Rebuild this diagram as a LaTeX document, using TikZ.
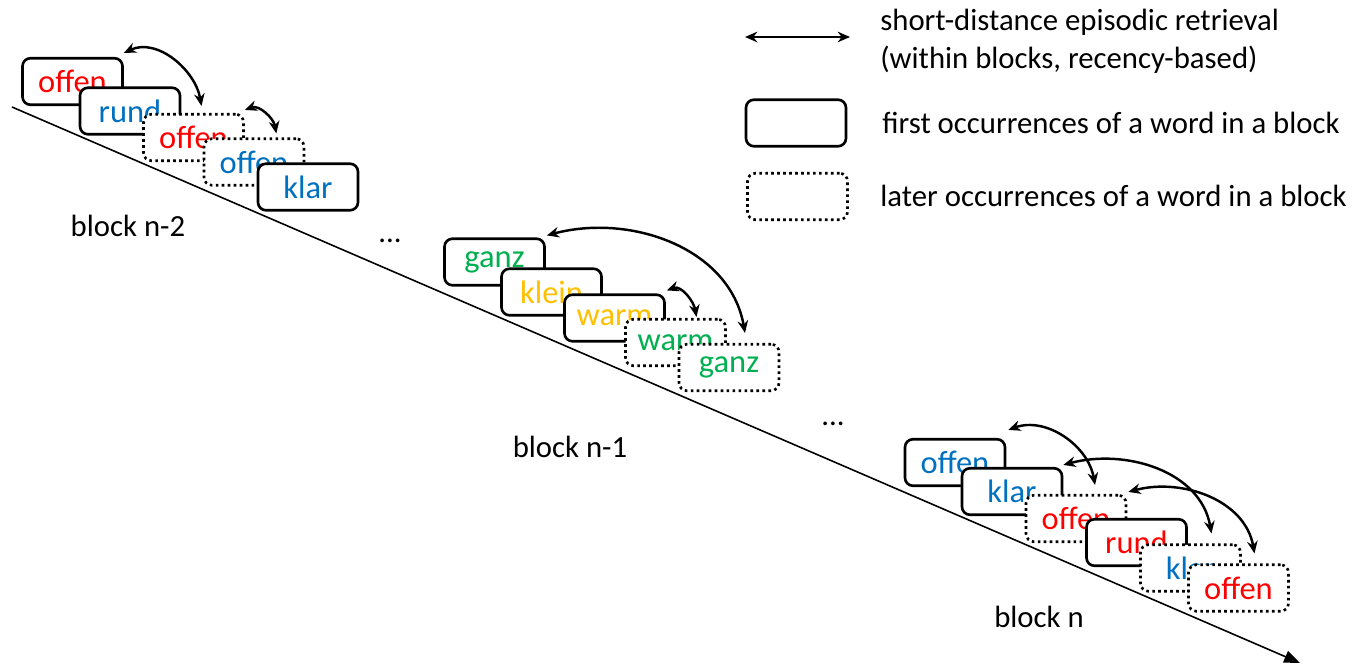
\documentclass[tikz,border=0pt]{standalone}
\usepackage{fontspec}
\setmainfont{Carlito}
\usepackage{tikz}
\usetikzlibrary{arrows.meta}
\definecolor{wred}{RGB}{255,0,0}
\definecolor{wblue}{RGB}{0,112,192}
\definecolor{wgreen}{RGB}{0,176,80}
\definecolor{wyellow}{RGB}{255,192,0}
\tikzset{
  first/.style={draw, fill=white, line width=1.5pt, rounded corners=4.5pt,
    minimum width=2cm, minimum height=0.93cm, inner sep=0pt,
    font=\fontsize{18.5}{22}\selectfont},
  later/.style={first, dash pattern=on 1.5pt off 1.9pt},
  retr/.style={line width=1.4pt,
    {Stealth[length=7pt,width=6pt]}-{Stealth[length=7pt,width=6pt]}},
  txt/.style={anchor=west, inner sep=0pt}
}

\begin{document}
\begin{tikzpicture}[x=0.02cm, y=0.02cm, font=\fontsize{17.5}{21}\selectfont]
\useasboundingbox (0,0) rectangle (1363,664);
\coordinate (t0) at (12,557);
\coordinate (t1) at (1300,1);
\draw[line width=0.9pt, -{Triangle[length=9pt,width=7pt]}] (t0) -- (t1);
\node[first, text=wred] (a1) at (72.5,582.5) {offen};
\node[first, text=wblue] (a2) at (130,553) {rund};
\node[later, text=wred] (a3) at (193.5,526.5) {offen};
\node[later, text=wblue] (a4) at (254,502) {offen};
\node[first, text=wblue] (a5) at (308,477) {klar};
\draw[retr] ([shift={(0,4)}]a1.north east) to[out=25,in=100] ([shift={(8,7)}]a3.north);
\draw[retr] ([shift={(0,3)}]a3.north east) to[out=20,in=100] ([shift={(-29,4)}]a4.north east);
\node (l1) at (128,438) {block n-2};
\node[anchor=base] (d1) at (390,422) {...};
\node[first, text=wgreen] (b1) at (494.5,402) {ganz};
\node[first, text=wyellow] (b2) at (551.5,372) {klein};
\node[first, text=wyellow] (b3) at (614.5,346) {warm};
\node[later, text=wgreen] (b4) at (675.5,321.5) {warm};
\node[later, text=wgreen] (b5) at (729,296.5) {ganz};
\draw[retr] ([shift={(1,2)}]b1.north east) to[out=15,in=100] ([shift={(16,10)}]b5.north);
\draw[retr] ([shift={(1,3)}]b3.north east) to[out=20,in=100] ([shift={(21,1)}]b4.north);
\node (l2) at (570,217) {block n-1};
\node[anchor=base] (d2) at (833,239) {...};
\node[first, text=wblue] (c1) at (955,201.5) {offen};
\node[first, text=wblue] (c2) at (1012,172.5) {klar};
\node[later, text=wred] (c3) at (1076,145.5) {offen};
\node[first, text=wred] (c4) at (1136.5,121.5) {rund};
\node[later, text=wblue] (c5) at (1190.5,96) {klar};
\node[later, text=wred] (c6) at (1238.5,76) {offen};
\draw[retr] ([shift={(2,8)}]c1.north east) to[out=20,in=100] ([shift={(19,9)}]c3.north);
\draw[retr] ([shift={(0,2)}]c2.north east) to[out=15,in=100] ([shift={(21,10)}]c5.north);
\draw[retr] ([shift={(1,2)}]c3.north east) to[out=15,in=100] ([shift={(16,10)}]c6.north);
\node (l3) at (1039,47) {block n};
\coordinate (g0) at (745,627);
\coordinate (g1) at (850,627);
\draw[retr] (g0) -- (g1);
\node[first] (k1) at (796,541) {};
\node[later] (k2) at (797.5,467.5) {};
\node[txt] (e1) at (880,642) {short-distance episodic retrieval};
\node[txt] (e2) at (880,604) {(within blocks, recency-based)};
\node[txt] (e3) at (882,541) {first occurrences of a word in a block};
\node[txt] (e4) at (880,468) {later occurrences of a word in a block};
\end{tikzpicture}
\end{document}
